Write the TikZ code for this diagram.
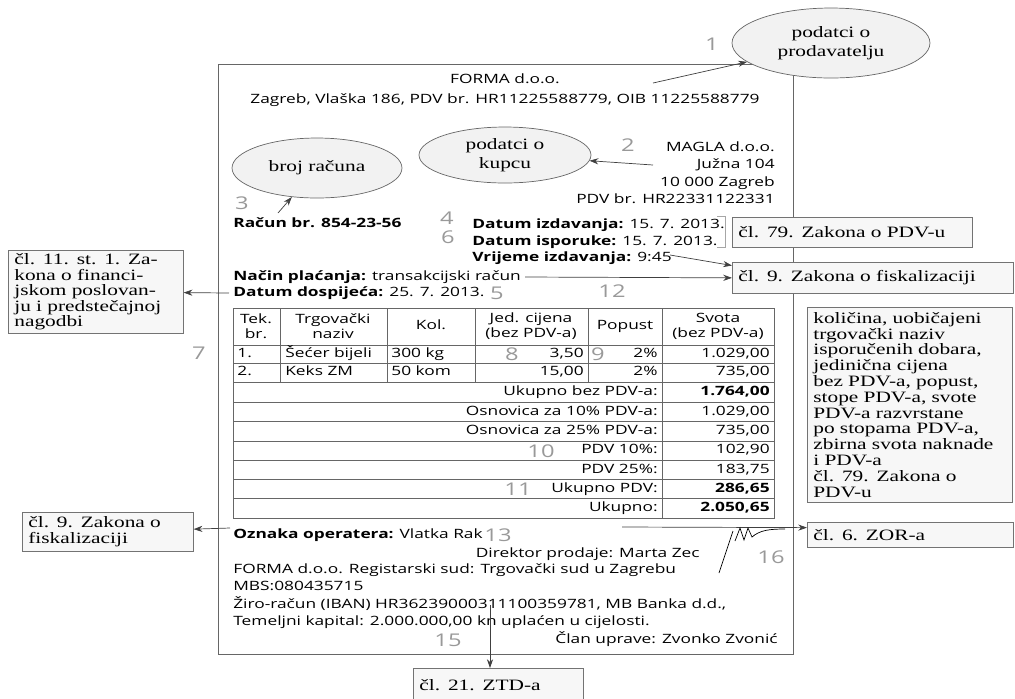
\documentclass[tikz,border=0pt]{standalone}
\usepackage{fontspec}
\setmainfont[FakeStretch=1.35]{Liberation Serif}
\setsansfont[FakeStretch=1.35]{Open Sans}
\usetikzlibrary{shapes.geometric,arrows.meta}

\begin{document}
\begin{tikzpicture}[x=0.02cm, y=-0.02cm,
  txt/.style={inner sep=0pt, font=\sffamily\fontsize{7.3}{8}\selectfont, text height=5.5pt, text depth=1.5pt},
  head/.style={inner sep=0pt, align=center, font=\sffamily\fontsize{7.3}{8.5}\selectfont},
  num/.style={inner sep=0pt, font=\sffamily\fontsize{10}{10}\selectfont, text=black!40},
  oval/.style={draw=black!60, fill=black!5, ellipse, inner sep=0pt, align=center, font=\fontsize{9}{10.5}\selectfont},
  note/.style={draw=black!55, fill=black!3, anchor=north west, inner xsep=0.12cm, inner ysep=0pt, align=left, font=\fontsize{9}{8.8}\selectfont},
  arr/.style={-{Stealth[length=5pt,width=3.5pt]}, black!75},
  tab/.style={black!60}]

  \useasboundingbox (0,0) rectangle (1015,698);
  \draw[black!60] (218,64) rectangle (793,654);

  \node[oval, minimum width=3.96cm, minimum height=1.4cm] (prod) at (831,43) {podatci o\\prodavatelju};
  \node[oval, minimum width=3.44cm, minimum height=1.12cm] (kup) at (505,155) {podatci o\\kupcu};
  \node[oval, minimum width=3.4cm, minimum height=1.2cm] (broj) at (317,168) {broj računa};

  \node[note, text width=4.56cm, minimum height=0.6cm] (pdv79) at (732,217) {čl. 79. Zakona o PDV-u};
  \node[note, text width=5.38cm, minimum height=0.62cm] (fisk9) at (732,262) {čl. 9. Zakona o fiskalizaciji};
  \node[note, text width=3.26cm, minimum height=1.66cm] (fin11) at (8,250) {čl. 11. st. 1. Za-\\kona o financi-\\jskom poslovan-\\ju i predstečajnoj\\nagodbi};
  \node[note, text width=3.86cm, minimum height=3.9cm, font=\fontsize{9}{9}\selectfont] (opis) at (807,307) {količina, uobičajeni\\trgovački naziv\\isporučenih dobara,\\jedinična cijena\\bez PDV-a, popust,\\stope PDV-a, svote\\PDV-a razvrstane\\po stopama PDV-a,\\zbirna svota naknade\\i PDV-a\\čl. 79. Zakona o\\PDV-u};
  \node[note, text width=3.88cm, minimum height=0.5cm] (zor6) at (807,522) {čl. 6. ZOR-a};
  \node[note, text width=3.18cm, minimum height=0.78cm] (fisk9b) at (22,512) {čl. 9. Zakona o\\fiskalizaciji};
  \node[note, text width=3.16cm, minimum height=0.68cm] (ztd21) at (413,668) {čl. 21. ZTD-a};

  \node[txt] (forma) at (505,80) {FORMA d.o.o.};
  \node[txt] (adr) at (505,100) {Zagreb, Vlaška 186, PDV br. HR11225588779, OIB 11225588779};
  \node[txt, anchor=east] (magla) at (775,148) {MAGLA d.o.o.};
  \node[txt, anchor=east] (ulica) at (775,165) {Južna 104};
  \node[txt, anchor=east] (grad) at (775,183) {10 000 Zagreb};
  \node[txt, anchor=east] (pdvk) at (775,200) {PDV br. HR22331122331};
  \node[txt, anchor=west] (racun) at (233,224) {\bfseries Račun br. 854-23-56};
  \node[txt, anchor=west] (izd) at (472,225) {\bfseries Datum izdavanja: \mdseries 15. 7. 2013.};
  \node[txt, anchor=west] (isp) at (472,242) {\bfseries Datum isporuke: \mdseries 15. 7. 2013.};
  \node[txt, anchor=west] (vrij) at (472,258) {\bfseries Vrijeme izdavanja: \mdseries 9:45};
  \node[txt, anchor=west] (nacin) at (233,277) {\bfseries Način plaćanja: \mdseries transakcijski račun};
  \node[txt, anchor=west] (dosp) at (233,293) {\bfseries Datum dospijeća: \mdseries 25. 7. 2013.};

  \draw[tab] (233,308) rectangle (774,518);
  \foreach \y in {345,363,382,402,421,441,460,479,498}
    \draw[tab] (233,\y) -- (774,\y);
  \foreach \x in {280,387,475,588}
    \draw[tab] (\x,308) -- (\x,382);
  \draw[tab] (662,308) -- (662,518);

  \node[head] (h1) at (256,326) {Tek.\\br.};
  \node[head] (h2) at (333,326) {Trgovački\\naziv};
  \node[txt] (h3) at (431,326) {Kol.};
  \node[head] (h4) at (531,326) {Jed. cijena\\(bez PDV-a)};
  \node[txt] (h5) at (625,326) {Popust};
  \node[head] (h6) at (718,326) {Svota\\(bez PDV-a)};

  \node[txt, anchor=west] (r1a) at (237,354) {1.};
  \node[txt, anchor=west] (r1b) at (285,354) {Šećer bijeli};
  \node[txt, anchor=west] (r1c) at (391,354) {300 kg};
  \node[txt, anchor=east] (r1d) at (584,354) {3,50};
  \node[txt, anchor=east] (r1e) at (658,354) {2\%};
  \node[txt, anchor=east] (r1f) at (770,354) {1.029,00};
  \node[txt, anchor=west] (r2a) at (237,372) {2.};
  \node[txt, anchor=west] (r2b) at (285,372) {Keks ZM};
  \node[txt, anchor=west] (r2c) at (391,372) {50 kom};
  \node[txt, anchor=east] (r2d) at (584,372) {15,00};
  \node[txt, anchor=east] (r2e) at (658,372) {2\%};
  \node[txt, anchor=east] (r2f) at (770,372) {735,00};

  \node[txt, anchor=east] (s1) at (658,392) {Ukupno bez PDV-a:};
  \node[txt, anchor=east] (v1) at (770,392) {\bfseries 1.764,00};
  \node[txt, anchor=east] (s2) at (658,412) {Osnovica za 10\% PDV-a:};
  \node[txt, anchor=east] (v2) at (770,412) {1.029,00};
  \node[txt, anchor=east] (s3) at (658,431) {Osnovica za 25\% PDV-a:};
  \node[txt, anchor=east] (v3) at (770,431) {735,00};
  \node[txt, anchor=east] (s4) at (658,450) {PDV 10\%:};
  \node[txt, anchor=east] (v4) at (770,450) {102,90};
  \node[txt, anchor=east] (s5) at (658,470) {PDV 25\%:};
  \node[txt, anchor=east] (v5) at (770,470) {183,75};
  \node[txt, anchor=east] (s6) at (658,489) {Ukupno PDV:};
  \node[txt, anchor=east] (v6) at (770,489) {\bfseries 286,65};
  \node[txt, anchor=east] (s7) at (658,508) {Ukupno:};
  \node[txt, anchor=east] (v7) at (770,508) {\bfseries 2.050,65};

  \node[txt, anchor=west] (oper) at (233,535) {\bfseries Oznaka operatera: \mdseries Vlatka Rak};
  \node[txt, anchor=east] (dir) at (700,554) {Direktor prodaje: Marta Zec};
  \node[txt, anchor=west] (reg) at (233,570) {FORMA d.o.o. Registarski sud: Trgovački sud u Zagrebu};
  \node[txt, anchor=west] (mbs) at (233,587) {MBS:080435715};
  \node[txt, anchor=west] (ziro) at (233,605) {Žiro-račun (IBAN) HR36239000311100359781, MB Banka d.d.,};
  \node[txt, anchor=west] (kap) at (233,622) {Temeljni kapital: 2.000.000,00 kn uplaćen u cijelosti.};
  \node[txt, anchor=east] (clan) at (778,640) {Član uprave: Zvonko Zvonić};

  \node[num] (n1) at (712,44) {1};
  \node[num] (n2) at (628,145) {2};
  \node[num] (n3) at (242,203) {3};
  \node[num] (n4) at (447,218) {4};
  \node[num] (n5) at (497,293) {5};
  \node[num] (n6) at (448,237) {6};
  \node[num] (n7) at (199,353) {7};
  \node[num] (n8) at (512,354) {8};
  \node[num] (n9) at (598,354) {9};
  \node[num] (n10) at (541,451) {10};
  \node[num] (n11) at (518,489) {11};
  \node[num] (n12) at (612,291) {12};
  \node[num] (n13) at (498,535) {13};
  \node[num] (n15) at (448,640) {15};
  \node[num] (n16) at (771,557) {16};

  \coordinate (a1) at (653,83);
  \coordinate (a2) at (653,165);
  \coordinate (a3) at (278,213);
  \coordinate (a4) at (670,255);
  \coordinate (a5) at (525,277);
  \coordinate (a6) at (229,293);
  \coordinate (a7) at (230,528);
  \coordinate (a8) at (622,527);
  \coordinate (a9) at (490,605);
  \draw[arr] (a1) -- (prod);
  \draw[arr] (a2) -- (kup);
  \draw[arr] (a3) -- (broj);
  \draw[arr] (a4) -- (fisk9.175);
  \draw[arr] (a5) -- (fisk9.west);
  \draw[arr] (a6) -- (fin11);
  \draw[arr] (a7) -- (fisk9b);
  \draw[arr] (a8) -- (zor6.176);
  \draw[arr] (a9) -- (a9 |- ztd21.north);
  \draw[black!35, thin] (717,216) -- (725,216) -- (725,247) -- (717,247);

  \draw[thin] (719,573) -- (733,531) (735,541) -- (740,528) -- (744,540) -- (748,528) -- (752,537) .. controls (760,530) and (770,529) .. (785,529);

\end{tikzpicture}
\end{document}
